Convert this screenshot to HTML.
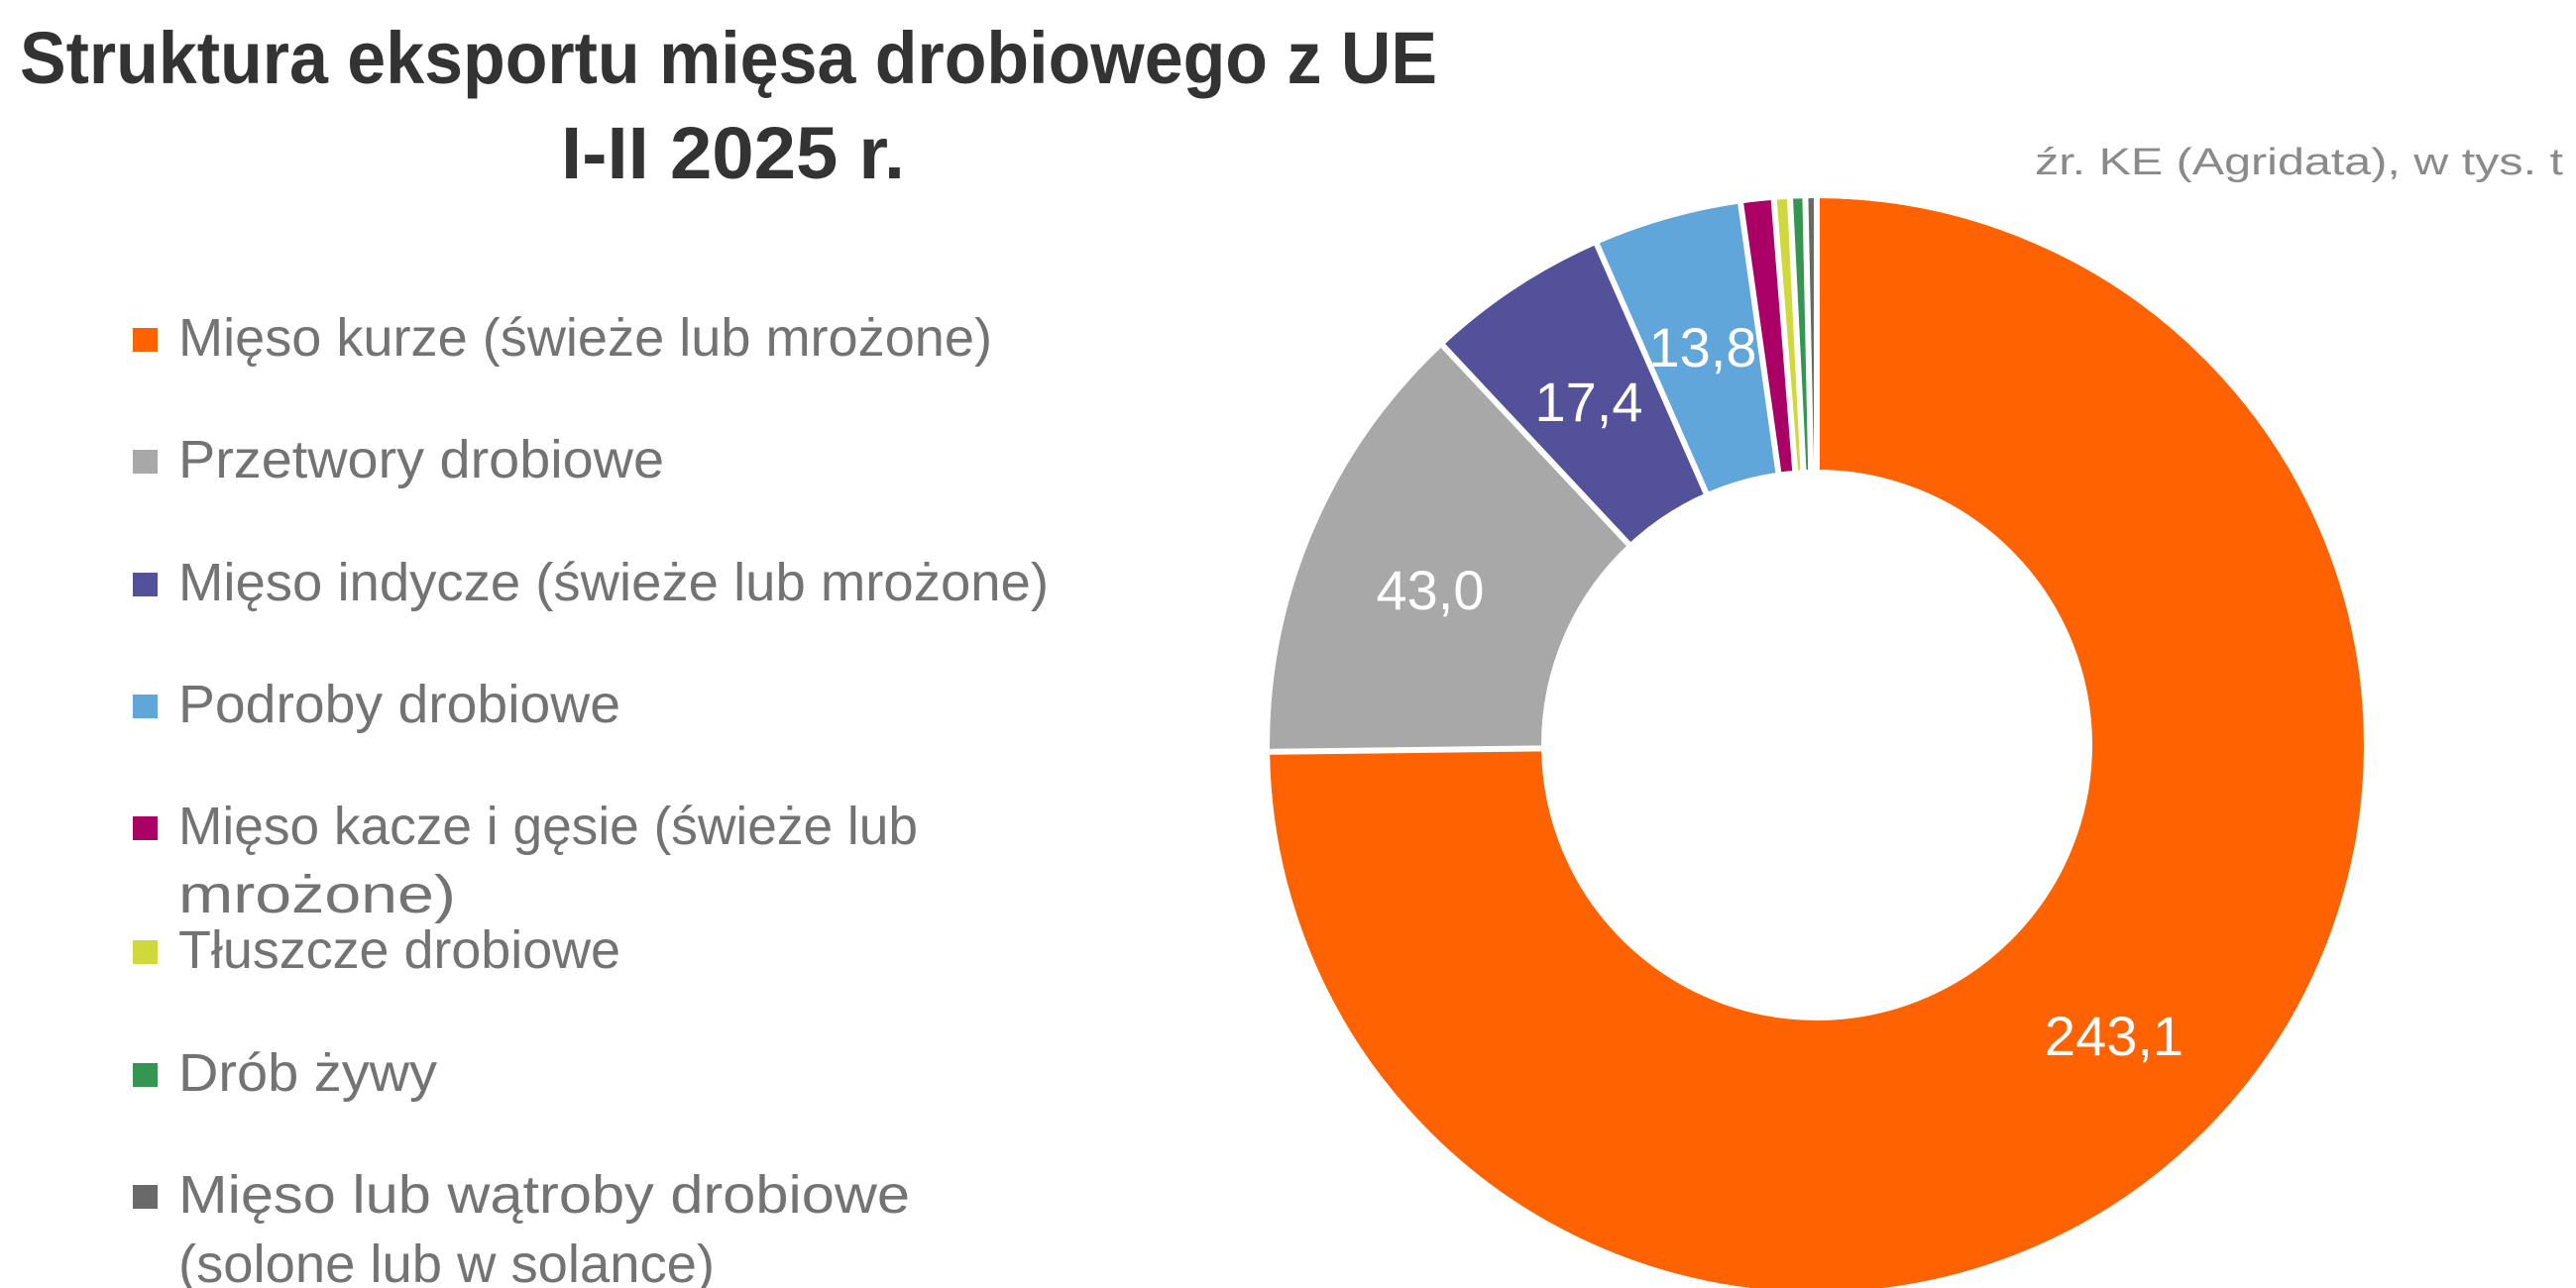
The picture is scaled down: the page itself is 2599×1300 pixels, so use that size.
<!DOCTYPE html>
<html><head><meta charset="utf-8"><style>
html,body{margin:0;padding:0;background:#fff;}
svg{display:block;}
</style></head><body>
<svg width="2599" height="1300" viewBox="0 0 2599 1300" xmlns="http://www.w3.org/2000/svg">
<g font-family="Liberation Sans, sans-serif">
<text x="20" y="84" font-size="74" font-weight="bold" fill="#333" textLength="1430" lengthAdjust="spacingAndGlyphs">Struktura eksportu mięsa drobiowego z UE</text>
<text x="566" y="180" font-size="74" font-weight="bold" fill="#333" textLength="347" lengthAdjust="spacingAndGlyphs">I-II 2025 r.</text>
<text x="2053" y="176" font-size="38" fill="#8a8a8a" textLength="533" lengthAdjust="spacingAndGlyphs">źr. KE (Agridata), w tys. t</text>

<g font-size="54" fill="#737373">
<rect x="134" y="331" width="25" height="24" fill="#ff6200"/>
<text x="180" y="359" textLength="821" lengthAdjust="spacingAndGlyphs">Mięso kurze (świeże lub mrożone)</text>
<rect x="134" y="454" width="25" height="24" fill="#a8a8a8"/>
<text x="180" y="482" textLength="490" lengthAdjust="spacingAndGlyphs">Przetwory drobiowe</text>
<rect x="134" y="578" width="25" height="24" fill="#525199"/>
<text x="180" y="606" textLength="878" lengthAdjust="spacingAndGlyphs">Mięso indycze (świeże lub mrożone)</text>
<rect x="134" y="701" width="25" height="24" fill="#60a6da"/>
<text x="180" y="729" textLength="446" lengthAdjust="spacingAndGlyphs">Podroby drobiowe</text>
<rect x="134" y="824" width="25" height="24" fill="#aa0066"/>
<text x="180" y="852" textLength="746" lengthAdjust="spacingAndGlyphs">Mięso kacze i gęsie (świeże lub</text>
<text x="180" y="921" textLength="280" lengthAdjust="spacingAndGlyphs">mrożone)</text>
<rect x="134" y="949" width="25" height="24" fill="#d0d93c"/>
<text x="180" y="977" textLength="446" lengthAdjust="spacingAndGlyphs">Tłuszcze drobiowe</text>
<rect x="134" y="1073" width="25" height="24" fill="#349651"/>
<text x="180" y="1101" textLength="261" lengthAdjust="spacingAndGlyphs">Drób żywy</text>
<rect x="134" y="1196" width="25" height="24" fill="#696969"/>
<text x="180" y="1224" textLength="738" lengthAdjust="spacingAndGlyphs">Mięso lub wątroby drobiowe</text>
<text x="180" y="1294" textLength="541" lengthAdjust="spacingAndGlyphs">(solone lub w solance)</text>
</g>
</g>

<g transform="translate(1833,752) rotate(-90)" fill="none" stroke-width="274">
<circle r="415" stroke="#ff6200" stroke-dasharray="1950.6 2607.5" stroke-dashoffset="0"/>
<circle r="415" stroke="#a8a8a8" stroke-dasharray="344.6 2607.5" stroke-dashoffset="-1950.6"/>
<circle r="415" stroke="#525199" stroke-dasharray="140.5 2607.5" stroke-dashoffset="-2295.2"/>
<circle r="415" stroke="#60a6da" stroke-dasharray="113.6 2607.5" stroke-dashoffset="-2435.7"/>
<circle r="415" stroke="#aa0066" stroke-dasharray="25.3 2607.5" stroke-dashoffset="-2549.3"/>
<circle r="415" stroke="#d0d93c" stroke-dasharray="12.3 2607.5" stroke-dashoffset="-2574.6"/>
<circle r="415" stroke="#349651" stroke-dasharray="11.6 2607.5" stroke-dashoffset="-2586.9"/>
<circle r="415" stroke="#696969" stroke-dasharray="9 2607.5" stroke-dashoffset="-2598.5"/>
</g>
<g transform="translate(1833,752)" stroke="#fff" stroke-width="6">
<line x1="0" y1="-272" x2="0" y2="-560" transform="rotate(0)"/>
<line x1="0" y1="-272" x2="0" y2="-560" transform="rotate(269.3)"/>
<line x1="0" y1="-272" x2="0" y2="-560" transform="rotate(316.9)"/>
<line x1="0" y1="-272" x2="0" y2="-560" transform="rotate(336.3)"/>
<line x1="0" y1="-272" x2="0" y2="-560" transform="rotate(352.0)"/>
<line x1="0" y1="-272" x2="0" y2="-560" transform="rotate(355.5)"/>
<line x1="0" y1="-272" x2="0" y2="-560" transform="rotate(357.2)"/>
<line x1="0" y1="-272" x2="0" y2="-560" transform="rotate(358.8)"/>
<circle r="554" fill="none" stroke-width="4"/>
</g>

<g font-family="Liberation Sans, sans-serif" font-size="56" fill="#fff" text-anchor="middle">
<text x="2133" y="1065">243,1</text>
<text x="1443" y="615">43,0</text>
<text x="1603" y="425">17,4</text>
<text x="1718" y="370">13,8</text>
</g>
</svg>
</body></html>
